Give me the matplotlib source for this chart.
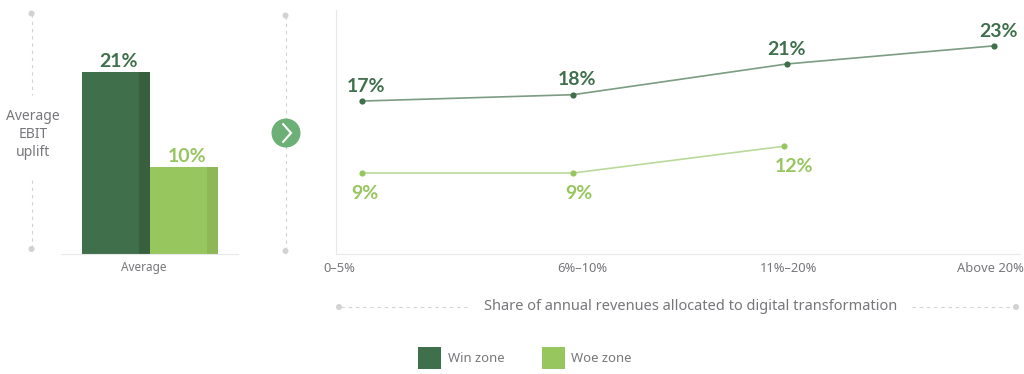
import matplotlib
matplotlib.use("Agg")
import matplotlib.pyplot as plt
from matplotlib.patches import Circle, Rectangle

plt.rcParams['font.family'] = ['Noto Sans', 'DejaVu Sans']
BOLD = ['Lato', 'DejaVu Sans']

# ---------- data ----------
series_names = ["Win zone", "Woe zone"]
avg_category = ["Average"]
avg_win = [21]
avg_woe = [10]
categories = ["0–5%", "6%–10%", "11%–20%", "Above 20%"]
win_pos = [0, 1, 2.014, 2.995]
woe_pos = [0, 1, 1.998]
win_values = [16.9, 17.6, 21.0, 23.0]
woe_values = [8.95, 8.95, 11.9]
win_labels = ["17%", "18%", "21%", "23%"]
woe_labels = ["9%", "9%", "12%"]
y_title = "Average\nEBIT\nuplift"
x_title = "Share of annual revenues allocated to digital transformation"

DARK, DARK_S = "#3F6F4B", "#38603F"
LIGHT, LIGHT_S = "#97C65F", "#8FB757"
LINE_D, LINE_L = "#7C9C83", "#BBD99A"
GREY_T, GREY_D, AXC = "#77767A", "#D3D1D1", "#E8E8E8"
W, H = 1024, 374

fig = plt.figure(figsize=(W / 100, H / 100), dpi=100, facecolor="white")

def px_axes(x0, y0, x1, y1):
    return fig.add_axes([x0 / W, 1 - y1 / H, (x1 - x0) / W, (y1 - y0) / H])

# overlay in pixel coordinates for the furniture
ov = fig.add_axes([0, 0, 1, 1], zorder=0)
ov.set_xlim(0, W); ov.set_ylim(H, 0); ov.axis("off")

def dotted(x0, y0, x1, y1):
    ov.plot([x0, x1], [y0, y1], color=GREY_D, lw=0.8, dashes=(3, 3.5), zorder=1)

def dot(x, y):
    ov.add_patch(Circle((x, y), 3, color=GREY_D, lw=0, zorder=2))

# left vertical guide
dotted(31.5, 14, 31.5, 95); dotted(31.5, 180, 31.5, 249)
dot(31.5, 13.5); dot(31.5, 249)
ov.text(33, 134.5, y_title, ha="center", va="center", fontsize=10, color=GREY_T, linespacing=1.3)

# middle guide with arrow button
dotted(285.5, 16, 285.5, 250)
dot(285.5, 15.5); dot(285.5, 251)
ov.add_patch(Circle((286, 133), 14.5, color="#6DB077", lw=0, zorder=3))
ov.plot([283, 291, 283], [124, 133, 142], color="white", lw=1.5, zorder=4,
        solid_capstyle="round", solid_joinstyle="miter")

# bottom guide and title
dotted(341, 307, 471, 307); dotted(912, 307, 1014, 307)
dot(339, 307); dot(1016, 307)
ov.text(691, 306.5, x_title, ha="center", va="center", fontsize=10.5, color=GREY_T)

# legend
ov.add_patch(Rectangle((418, 347), 23, 22, color=DARK, lw=0))
ov.add_patch(Rectangle((542, 347), 23, 22, color=LIGHT, lw=0))
ov.text(448, 358, series_names[0], ha="left", va="center", fontsize=9.4, color=GREY_T)
ov.text(571, 358, series_names[1], ha="left", va="center", fontsize=9.4, color=GREY_T)

# ---------- left bars ----------
ax1 = px_axes(61, 10, 238, 254)
ax1.patch.set_alpha(0)
scale = 182 / 21
ax1.set_ylim(0, 244 / scale)
ax1.set_xlim(-89 / 68, 88 / 68)
ax1.bar([-0.5], avg_win, width=1, color=DARK)
ax1.bar([0.5], avg_woe, width=1, color=LIGHT)
ax1.bar([-0.08], avg_win, width=0.16, color=DARK_S)
ax1.bar([0.92], avg_woe, width=0.16, color=LIGHT_S)
ax1.text(-0.46, avg_win[0] + 0.25, f"{avg_win[0]}%", ha="center", va="bottom",
         fontsize=14, fontweight="bold", color=DARK, family=BOLD)
ax1.text(0.55, avg_woe[0] + 0.25, f"{avg_woe[0]}%", ha="center", va="bottom",
         fontsize=14, fontweight="bold", color=LIGHT, family=BOLD)
ax1.set_xticks([-0.09], avg_category)
ax1.set_yticks([])
ax1.tick_params(axis="x", length=0, pad=5, labelsize=8.5, labelcolor=GREY_T)
for s in ["top", "left", "right"]:
    ax1.spines[s].set_visible(False)
ax1.spines["bottom"].set_color(AXC)

# ---------- right lines ----------
ax2 = px_axes(336, 10, 1020, 254)
ax2.patch.set_alpha(0)
ax2.set_ylim(0, 244 / 9.05)
ax2.set_xlim(-26 / 211, 658 / 211)
ax2.plot(win_pos, win_values, color=LINE_D, lw=1.2, zorder=2)
ax2.plot(woe_pos, woe_values, color=LINE_L, lw=1.2, zorder=2)
ax2.scatter(win_pos, win_values, s=20, color=DARK, zorder=3, lw=0)
ax2.scatter(woe_pos, woe_values, s=20, color=LIGHT, zorder=3, lw=0)
for x, y, t, dx in zip(win_pos, win_values, win_labels, [4, 4, 0, 5]):
    ax2.annotate(t, (x, y), xytext=(dx * 0.72, 4.5), textcoords="offset points", ha="center",
                 va="bottom", fontsize=14, fontweight="bold", color=DARK, family=BOLD)
for x, y, t, dx in zip(woe_pos, woe_values, woe_labels, [3, 6, 10]):
    ax2.annotate(t, (x, y), xytext=(dx * 0.72, -8.5), textcoords="offset points", ha="center",
                 va="top", fontsize=14, fontweight="bold", color=LIGHT, family=BOLD)
ax2.set_xticks([])
ax2.set_yticks([])
for s in ["top", "right"]:
    ax2.spines[s].set_visible(False)
ax2.spines["bottom"].set_color(AXC)
ax2.spines["left"].set_color(AXC)

# category labels are offset from the points in the original
tick_px = [339, 582, 788.5, 990]
for p, t in zip(tick_px, categories):
    ov.text(p, 268, t, ha="center", va="center", fontsize=9.3, color=GREY_T)

fig.savefig("out.png", dpi=100, facecolor="white")
